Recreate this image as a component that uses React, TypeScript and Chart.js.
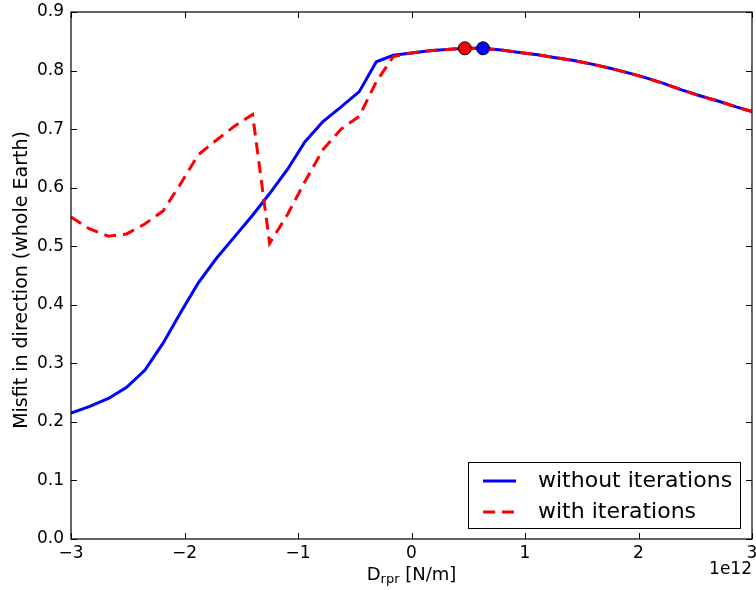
import React, { useEffect, useRef } from "react";
import { Chart, registerables } from "chart.js";

Chart.register(...registerables);

const xValues = [-3.0, -2.84, -2.67, -2.51, -2.35, -2.19, -2.03, -1.88, -1.72, -1.56, -1.40, -1.25, -1.09, -0.94, -0.78, -0.62, -0.46, -0.31, -0.16, 0.0, 0.16, 0.31, 0.47, 0.63, 0.79, 0.95, 1.11, 1.27, 1.43, 1.59, 1.75, 1.91, 2.06, 2.22, 2.38, 2.54, 2.70, 2.86, 3.0];
const withoutIterations = [0.215, 0.226, 0.240, 0.259, 0.288, 0.334, 0.388, 0.437, 0.479, 0.516, 0.553, 0.590, 0.632, 0.678, 0.713, 0.738, 0.764, 0.815, 0.826, 0.830, 0.834, 0.836, 0.838, 0.838, 0.835, 0.831, 0.827, 0.822, 0.817, 0.811, 0.804, 0.796, 0.788, 0.778, 0.767, 0.757, 0.748, 0.738, 0.730];
const withIterations = [0.550, 0.530, 0.517, 0.521, 0.538, 0.560, 0.608, 0.656, 0.681, 0.705, 0.725, 0.505, 0.555, 0.610, 0.665, 0.700, 0.722, 0.781, 0.824, 0.830, 0.834, 0.836, 0.838, 0.838, 0.835, 0.831, 0.827, 0.822, 0.817, 0.811, 0.804, 0.796, 0.788, 0.778, 0.767, 0.757, 0.748, 0.738, 0.730];
const bestWith = { x: 0.47, y: 0.838 };
const bestWithout = { x: 0.63, y: 0.838 };
const xTicks = [-3, -2, -1, 0, 1, 2, 3];
const yTicks = [0.0, 0.1, 0.2, 0.3, 0.4, 0.5, 0.6, 0.7, 0.8, 0.9];
const seriesLabels = ["without iterations", "with iterations"];
const xTitleMain = "D";
const xTitleSub = "rpr";
const xTitleRest = " [N/m]";
const yTitle = "Misfit in direction (whole Earth)";
const offsetText = "1e12";

const FONT = "'DejaVu Sans', sans-serif";
const BLUE = "#0000ff";
const RED = "#ff0000";
const DASH = [12, 7];

const fmtX = (v: number) => (v < 0 ? "\u2212" + Math.abs(v) : String(v));

const decorPlugin = {
  id: "decor",
  afterDatasetsDraw(chart: any) {
    const ctx = chart.ctx;
    const { left, right, top, bottom } = chart.chartArea;
    const xs = chart.scales.x;
    const ys = chart.scales.y;
    ctx.save();
    ctx.strokeStyle = "#000";
    ctx.lineWidth = 1.2;
    ctx.setLineDash([]);
    ctx.strokeRect(left, top, right - left, bottom - top);
    const tl = 6;
    ctx.lineWidth = 1;
    ctx.beginPath();
    xTicks.forEach((v) => {
      const px = Math.round(xs.getPixelForValue(v)) + 0.5;
      ctx.moveTo(px, bottom);
      ctx.lineTo(px, bottom - tl);
      ctx.moveTo(px, top);
      ctx.lineTo(px, top + tl);
    });
    yTicks.forEach((v) => {
      const py = Math.round(ys.getPixelForValue(v)) + 0.5;
      ctx.moveTo(left, py);
      ctx.lineTo(left + tl, py);
      ctx.moveTo(right, py);
      ctx.lineTo(right - tl, py);
    });
    ctx.stroke();

    // axis titles
    ctx.fillStyle = "#000";
    const tf = 18;
    ctx.font = `${tf}px ${FONT}`;
    ctx.textBaseline = "alphabetic";
    const mainW = ctx.measureText(xTitleMain).width;
    const restW = ctx.measureText(xTitleRest).width;
    ctx.font = `${tf * 0.72}px ${FONT}`;
    const subW = ctx.measureText(xTitleSub).width;
    const total = mainW + subW + restW;
    const cx = (left + right) / 2;
    const x0 = cx - total / 2;
    const base = 580;
    ctx.textAlign = "left";
    ctx.font = `${tf}px ${FONT}`;
    ctx.fillText(xTitleMain, x0, base);
    ctx.font = `${tf * 0.72}px ${FONT}`;
    ctx.fillText(xTitleSub, x0 + mainW, base + 3);
    ctx.font = `${tf}px ${FONT}`;
    ctx.fillText(xTitleRest, x0 + mainW + subW, base);

    ctx.save();
    ctx.translate(22, 280);
    ctx.rotate(-Math.PI / 2);
    ctx.textAlign = "center";
    ctx.textBaseline = "middle";
    ctx.font = `19px ${FONT}`;
    ctx.fillText(yTitle, 0, 0);
    ctx.restore();

    ctx.font = `17px ${FONT}`;
    ctx.textAlign = "right";
    ctx.textBaseline = "middle";
    ctx.fillText(offsetText, right, 570);

    // legend
    const lx = 468.5, ly = 462.5, lw = 272, lh = 66;
    ctx.fillStyle = "#fff";
    ctx.fillRect(lx, ly, lw, lh);
    ctx.strokeStyle = "#000";
    ctx.lineWidth = 1;
    ctx.strokeRect(lx, ly, lw, lh);
    const rows = [481, 512];
    ctx.lineWidth = 3;
    ctx.lineCap = "butt";
    ctx.strokeStyle = BLUE;
    ctx.beginPath();
    ctx.moveTo(483, rows[0]);
    ctx.lineTo(516, rows[0]);
    ctx.stroke();
    ctx.strokeStyle = RED;
    ctx.setLineDash(DASH);
    ctx.beginPath();
    ctx.moveTo(483, rows[1]);
    ctx.lineTo(516, rows[1]);
    ctx.stroke();
    ctx.setLineDash([]);
    ctx.fillStyle = "#000";
    ctx.font = `22px ${FONT}`;
    ctx.textAlign = "left";
    ctx.textBaseline = "middle";
    ctx.fillText(seriesLabels[0], 538, rows[0]);
    ctx.fillText(seriesLabels[1], 538, rows[1]);
    ctx.restore();
  },
};

export default function App() {
  const ref = useRef<HTMLCanvasElement | null>(null);
  useEffect(() => {
    document.body.style.margin = "0";
    const canvas = ref.current;
    if (!canvas) return;
    const chart = new Chart(canvas, {
      type: "scatter",
      data: {
        datasets: [
          {
            label: seriesLabels[0],
            data: xValues.map((x, i) => ({ x, y: withoutIterations[i] })),
            showLine: true,
            borderColor: BLUE,
            backgroundColor: BLUE,
            borderWidth: 3,
            pointRadius: 0,
            tension: 0,
            order: 4,
          },
          {
            label: seriesLabels[1],
            data: xValues.map((x, i) => ({ x, y: withIterations[i] })),
            showLine: true,
            borderColor: RED,
            backgroundColor: RED,
            borderWidth: 3,
            borderDash: DASH,
            pointRadius: 0,
            tension: 0,
            order: 3,
          },
          {
            label: "best with",
            data: [bestWith],
            backgroundColor: RED,
            borderColor: "#000",
            borderWidth: 1,
            pointRadius: 6.5,
            order: 2,
          },
          {
            label: "best without",
            data: [bestWithout],
            backgroundColor: BLUE,
            borderColor: "#000",
            borderWidth: 1,
            pointRadius: 6.5,
            order: 1,
          },
        ],
      },
      options: {
        responsive: false,
        animation: false,
        devicePixelRatio: 1,
        layout: { autoPadding: false, padding: { top: 12, right: 4, left: 0, bottom: 0 } },
        plugins: { legend: { display: false }, tooltip: { enabled: false } },
        scales: {
          x: {
            type: "linear",
            min: -3,
            max: 3,
            grid: { display: false, drawTicks: false },
            border: { display: false },
            afterBuildTicks: (s: any) => {
              s.ticks = xTicks.map((v) => ({ value: v }));
            },
            afterFit: (s: any) => {
              s.height = 51;
              s.paddingLeft = 0;
              s.paddingRight = 0;
            },
            ticks: {
              padding: 4,
              color: "#000",
              font: { family: FONT, size: 17 },
              maxRotation: 0,
              autoSkip: false,
              callback: (v: any) => fmtX(Number(v)),
            },
          },
          y: {
            type: "linear",
            min: 0,
            max: 0.9,
            grid: { display: false, drawTicks: false },
            border: { display: false },
            afterBuildTicks: (s: any) => {
              s.ticks = yTicks.map((v) => ({ value: v }));
            },
            afterFit: (s: any) => {
              s.width = 71;
              s.paddingTop = 0;
              s.paddingBottom = 0;
            },
            ticks: {
              padding: 7,
              color: "#000",
              font: { family: FONT, size: 17 },
              autoSkip: false,
              callback: (v: any) => Number(v).toFixed(1),
            },
          },
        },
      },
      plugins: [decorPlugin],
    });
    return () => chart.destroy();
  }, []);
  return <canvas ref={ref} width={756} height={590} style={{ display: "block" }} />;
}
